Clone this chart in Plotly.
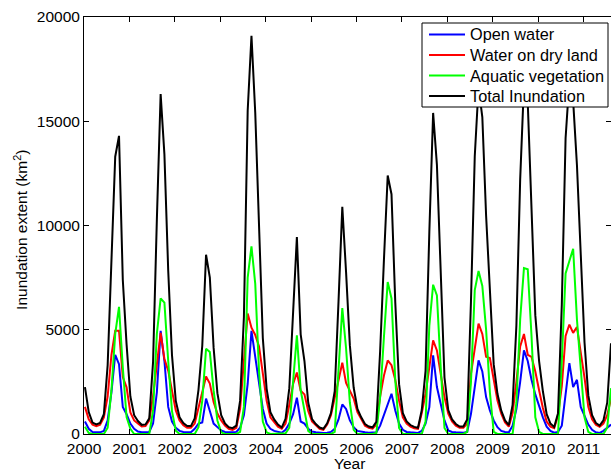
import numpy as np
import plotly.graph_objects as go

# Monthly inundation extent (km^2), January 2000 through August 2011
open_water = [
    600, 250, 100, 80, 80, 150, 650, 2000, 3800, 3350, 1300, 950,        # 2000
    500, 250, 120, 80, 80, 100, 500, 2000, 4950, 3500, 1300, 600,        # 2001
    300, 150, 100, 80, 80, 250, 500, 550, 1700, 1100, 500, 330,          # 2002
    170, 100, 80, 80, 100, 300, 900, 2400, 4950, 3700, 2300, 1200,       # 2003
    500, 250, 150, 100, 60, 200, 500, 950, 1740, 600, 500, 250,          # 2004
    120, 80, 60, 50, 60, 100, 250, 700, 1420, 1200, 650, 330,            # 2005
    150, 100, 80, 60, 60, 80, 400, 900, 1500, 1930, 1130, 500,           # 2006
    200, 100, 80, 60, 50, 150, 500, 1290, 3770, 2250, 1400, 650,         # 2007
    170, 100, 80, 60, 60, 100, 970, 2250, 3530, 3000, 1770, 1130,        # 2008
    650, 330, 150, 100, 80, 400, 1200, 2500, 4010, 3500, 2600, 1900,     # 2009
    1300, 800, 350, 150, 60, 100, 400, 1800, 3400, 2250, 2600, 1300,     # 2010
    900, 450, 200, 80, 50, 150, 300, 450,                                # 2011
]

water_on_dry_land = [
    1300, 700, 450, 380, 450, 800, 1800, 3800, 4950, 4950, 2730, 2240,   # 2000
    1030, 650, 500, 360, 380, 650, 1830, 3470, 4850, 3600, 3040, 2080,   # 2001
    1130, 650, 420, 300, 300, 500, 1290, 2080, 2760, 2420, 1540, 980,    # 2002
    650, 410, 250, 200, 300, 1200, 3400, 5780, 5100, 4750, 4200, 2800,   # 2003
    1600, 800, 550, 350, 250, 500, 1400, 2400, 2950, 2080, 1900, 1100,   # 2004
    600, 400, 250, 200, 450, 900, 1700, 2600, 3420, 2450, 2100, 1700,    # 2005
    1050, 700, 400, 300, 260, 450, 1800, 2800, 3530, 3300, 2600, 1600,   # 2006
    800, 500, 350, 280, 250, 1000, 1930, 3210, 4490, 4010, 2890, 1770,   # 2007
    980, 600, 400, 300, 300, 500, 2890, 4170, 5290, 4800, 3700, 3640,    # 2008
    2600, 1600, 970, 550, 350, 1000, 2500, 4200, 4800, 3800, 3700, 3000, # 2009
    2100, 1250, 600, 350, 280, 900, 2300, 4700, 5250, 4850, 5130, 4000,  # 2010
    2700, 1300, 700, 450, 350, 500, 900, 1700,                           # 2011
]

aquatic_vegetation = [
    350, 50, 0, 0, 0, 0, 300, 2100, 4800, 6100, 3200, 810,               # 2000
    250, 0, 0, 0, 0, 0, 1130, 4800, 6500, 6300, 3500, 1100,              # 2001
    160, 0, 0, 0, 0, 0, 330, 1600, 4090, 3930, 2090, 650,                # 2002
    80, 0, 0, 0, 0, 100, 1300, 7500, 9000, 7200, 3000, 600,              # 2003
    80, 0, 0, 0, 0, 30, 300, 2500, 4730, 2100, 1100, 150,                # 2004
    0, 0, 0, 0, 0, 0, 100, 3050, 6040, 4100, 1500, 200,                  # 2005
    0, 0, 0, 0, 0, 50, 1770, 4650, 7290, 6500, 2570, 290,                # 2006
    0, 0, 0, 0, 0, 0, 600, 5200, 7160, 6650, 3210, 290,                  # 2007
    0, 0, 0, 0, 0, 100, 2500, 6900, 7820, 7100, 5000, 2000,              # 2008
    100, 0, 0, 0, 0, 0, 1500, 5500, 7960, 7900, 4700, 800,               # 2009
    100, 0, 0, 0, 0, 0, 3500, 7700, 8300, 8880, 5500, 3000,              # 2010
    800, 100, 0, 0, 0, 0, 300, 2200,                                     # 2011
]

total_inundation = [
    2250, 1050, 550, 460, 530, 950, 3300, 7900, 13300, 14300, 7400, 4300,      # 2000
    1800, 900, 620, 440, 460, 750, 3460, 10270, 16300, 13400, 7840, 3780,      # 2001
    1590, 800, 520, 380, 380, 750, 2120, 4230, 8600, 7500, 4130, 1960,         # 2002
    900, 510, 330, 280, 400, 1600, 5600, 15500, 19100, 15400, 9500, 4600,      # 2003
    2180, 1050, 700, 450, 310, 730, 2200, 5850, 9450, 4780, 3500, 1500,        # 2004
    720, 480, 310, 250, 510, 1000, 2050, 6350, 10900, 7750, 4250, 2230,        # 2005
    1200, 800, 480, 360, 320, 580, 3970, 8350, 12400, 11500, 6300, 2390,       # 2006
    1000, 600, 430, 340, 300, 1150, 3030, 9700, 15400, 12910, 7500, 2710,      # 2007
    1150, 700, 480, 360, 360, 700, 6360, 13320, 16640, 15200, 10470, 6770,     # 2008
    3350, 1930, 1120, 650, 430, 1400, 5200, 12200, 16770, 15900, 11000, 5700,  # 2009
    3500, 2050, 950, 500, 340, 1000, 6200, 14200, 16950, 15980, 12900, 8300,   # 2010
    4400, 1850, 900, 530, 400, 650, 1500, 4350,                                # 2011
]

year_ticks = list(range(2000, 2012))
y_ticks = [0, 5000, 10000, 15000, 20000]

# decimal-year time stamp of each monthly sample
n = len(total_inundation)
t = 2000 + (np.arange(n) + 0.25) / 12.0

series = [
    ("Open water", open_water, "#0000ff"),
    ("Water on dry land", water_on_dry_land, "#ff0000"),
    ("Aquatic vegetation", aquatic_vegetation, "#00ff00"),
    ("Total Inundation", total_inundation, "#000000"),
]

FONT = "Liberation Sans, Arial, Helvetica, sans-serif"

# plot-area geometry in pixels, used to place the boxed key in paper units
W, H = 611, 469
L, R, T, B = 84, 0, 17, 35
PW, PH = W - L - R, H - T - B


def px_x(px):
    return (px - L) / PW


def px_y(py):
    return (H - B - py) / PH


fig = go.Figure()
for name, vals, color in series:
    fig.add_trace(go.Scatter(
        x=t, y=vals, mode="lines", name=name,
        line=dict(color=color, width=2), showlegend=False,
    ))

axis_common = dict(
    showline=True, linecolor="black", linewidth=1, mirror="allticks",
    ticks="inside", ticklen=5, tickcolor="black", tickwidth=1,
    showgrid=False, zeroline=False,
    tickfont=dict(family=FONT, size=15.5, color="black"),
)

# boxed key in the upper-right corner
shapes = [dict(
    type="rect", xref="paper", yref="paper",
    x0=px_x(422), x1=px_x(608), y0=px_y(107), y1=px_y(23),
    line=dict(color="black", width=1), fillcolor="white", layer="above",
)]
annotations = []
row_y = [34.5, 55, 75.5, 96]
for (name, _, color), ry in zip(series, row_y):
    shapes.append(dict(
        type="line", xref="paper", yref="paper",
        x0=px_x(429), x1=px_x(465), y0=px_y(ry), y1=px_y(ry),
        line=dict(color=color, width=2), layer="above",
    ))
    annotations.append(dict(
        text=name, xref="paper", yref="paper", x=px_x(468), y=px_y(ry),
        xanchor="left", yanchor="middle", showarrow=False,
        font=dict(family=FONT, size=16.3, color="black"),
    ))

annotations += [
    dict(text="Inundation extent (km<sup>2</sup>)", textangle=-90,
         xref="paper", yref="paper", x=-0.121, y=0.49,
         xanchor="center", yanchor="middle", showarrow=False,
         font=dict(family=FONT, size=15.5, color="black")),
    dict(text="Year", xref="paper", yref="paper", x=0.503, y=-0.07,
         xanchor="center", yanchor="middle", showarrow=False,
         font=dict(family=FONT, size=15.5, color="black")),
]

fig.update_layout(
    width=W, height=H,
    margin=dict(l=L, r=R, t=T, b=B),
    paper_bgcolor="white", plot_bgcolor="white",
    font=dict(family=FONT, color="black"),
    showlegend=False,
    xaxis=dict(range=[2000, t[-1]], tickvals=year_ticks, **axis_common),
    yaxis=dict(range=[0, 20000], tickvals=y_ticks,
               ticktext=[str(v) for v in y_ticks], **axis_common),
    shapes=shapes,
    annotations=annotations,
)

fig.write_html("out.html")
